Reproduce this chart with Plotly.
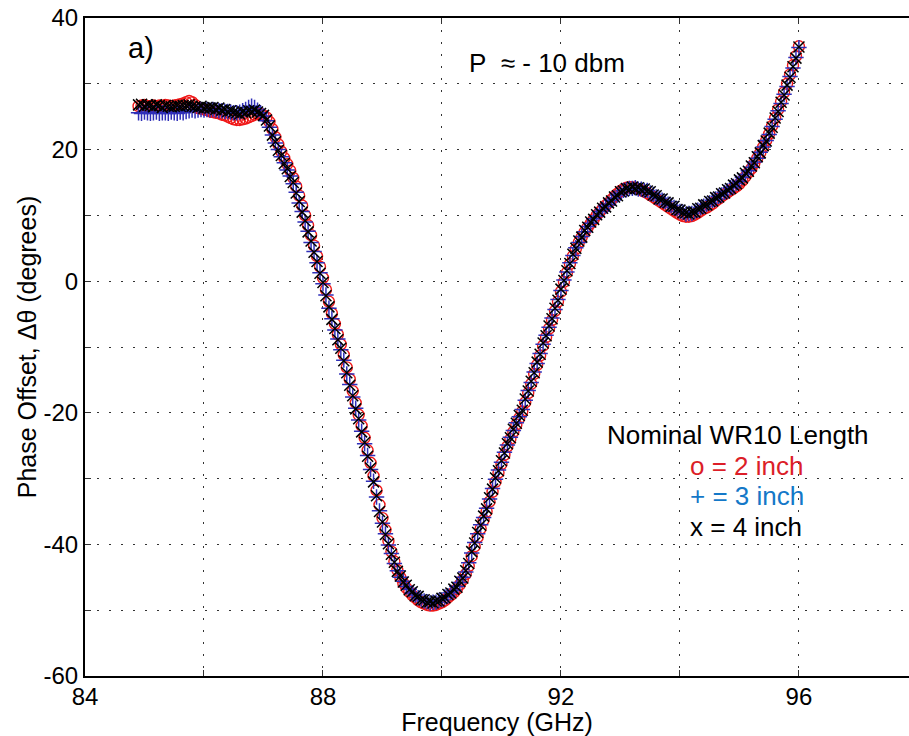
import plotly.graph_objects as go

# Frequency samples (GHz)
freq = [
    84.90, 84.95, 85.00, 85.05, 85.10, 85.15, 85.20, 85.25, 85.30, 85.35,
    85.40, 85.45, 85.50, 85.55, 85.60, 85.65, 85.70, 85.75, 85.80, 85.85,
    85.90, 85.95, 86.00, 86.05, 86.10, 86.15, 86.20, 86.25, 86.30, 86.35,
    86.40, 86.45, 86.50, 86.55, 86.60, 86.65, 86.70, 86.75, 86.80, 86.85,
    86.90, 86.95,
    87.00, 87.05, 87.10, 87.15, 87.20, 87.25, 87.30, 87.35, 87.40, 87.45,
    87.50, 87.55, 87.60, 87.65, 87.70, 87.75, 87.80, 87.85, 87.90, 87.95,
    88.00, 88.05, 88.10, 88.15, 88.20, 88.25, 88.30, 88.35, 88.40, 88.45,
    88.50, 88.55, 88.60, 88.65, 88.70, 88.75, 88.80, 88.85, 88.90, 88.95,
    89.00, 89.05, 89.10, 89.15, 89.20, 89.25, 89.30, 89.35, 89.40, 89.45,
    89.50, 89.55, 89.60, 89.65, 89.70, 89.75, 89.80, 89.85, 89.90, 89.95,
    90.00, 90.05, 90.10, 90.15, 90.20, 90.25, 90.30, 90.35, 90.40, 90.45,
    90.50, 90.55, 90.60, 90.65, 90.70, 90.75, 90.80, 90.85, 90.90, 90.95,
    91.00, 91.05, 91.10, 91.15, 91.20, 91.25, 91.30, 91.35, 91.40, 91.45,
    91.50, 91.55, 91.60, 91.65, 91.70, 91.75, 91.80, 91.85, 91.90, 91.95,
    92.00, 92.05, 92.10, 92.15, 92.20, 92.25, 92.30, 92.35, 92.40, 92.45,
    92.50, 92.55, 92.60, 92.65, 92.70, 92.75, 92.80, 92.85, 92.90, 92.95,
    93.00, 93.05, 93.10, 93.15, 93.20, 93.25, 93.30, 93.35, 93.40, 93.45,
    93.50, 93.55, 93.60, 93.65, 93.70, 93.75, 93.80, 93.85, 93.90, 93.95,
    94.00, 94.05, 94.10, 94.15, 94.20, 94.25, 94.30, 94.35, 94.40, 94.45,
    94.50, 94.55, 94.60, 94.65, 94.70, 94.75, 94.80, 94.85, 94.90, 94.95,
    95.00, 95.05, 95.10, 95.15, 95.20, 95.25, 95.30, 95.35, 95.40, 95.45,
    95.50, 95.55, 95.60, 95.65, 95.70, 95.75, 95.80, 95.85, 95.90, 95.95,
    96.00,
]

# Phase offset (degrees), 2 inch waveguide (o, red)
phase_2in = [
    26.6, 26.7, 26.8, 26.6, 26.6, 26.7, 26.6, 26.7, 26.6, 26.8,
    26.7, 26.6, 26.7, 26.8, 26.9, 27.0, 27.2, 27.4, 27.2, 26.8,
    26.3, 26.2, 26.1, 26.0, 25.8, 25.7, 25.6, 25.5, 25.3, 25.2,
    25.0, 24.8, 24.6, 24.5, 24.5, 24.6, 24.7, 24.9, 25.1, 25.3,
    25.4, 25.4,
    25.2, 24.9, 24.2, 23.1, 21.9, 20.8, 19.7, 18.7, 17.8, 16.8,
    15.7, 14.4, 13.0, 11.5, 10.0, 8.5, 7.0, 5.4, 3.8, 2.2,
    0.5, -1.3, -3.1, -4.9, -6.5, -8.1, -9.6, -11.2, -13.1, -14.9,
    -16.7, -18.5, -20.3, -22.0, -23.8, -25.7, -27.6, -29.6, -31.8, -34.0,
    -36.0, -37.8, -39.5, -41.1, -42.6, -43.9, -45.0, -45.9, -46.6, -47.2,
    -47.7, -48.1, -48.5, -48.8, -49.0, -49.2, -49.3, -49.3, -49.2, -49.0,
    -48.8, -48.5, -48.1, -47.7, -47.3, -46.8, -46.1, -45.4, -44.5, -43.3,
    -41.8, -40.3, -38.9, -37.6, -36.3, -35.0, -33.5, -32.0, -30.5, -29.1,
    -27.8, -26.4, -25.1, -24.0, -22.9, -21.8, -20.8, -19.8, -18.4, -17.0,
    -15.6, -14.1, -12.7, -11.3, -9.8, -8.5, -7.2, -5.9, -4.5, -3.1,
    -1.6, -0.1, 1.3, 2.6, 3.8, 4.9, 5.9, 6.7, 7.5, 8.2,
    8.8, 9.4, 10.0, 10.5, 11.0, 11.5, 11.9, 12.4, 12.9, 13.3,
    13.7, 14.0, 14.2, 14.3, 14.3, 14.2, 14.0, 13.8, 13.6, 13.4,
    13.1, 12.8, 12.5, 12.2, 11.9, 11.6, 11.3, 11.0, 10.7, 10.4,
    10.1, 9.9, 9.8, 9.8, 9.9, 10.1, 10.4, 10.7, 11.0, 11.2,
    11.5, 11.8, 12.2, 12.5, 12.9, 13.2, 13.5, 13.8, 14.1, 14.4,
    14.8, 15.3, 15.9, 16.5, 17.1, 17.9, 18.7, 19.5, 20.4, 21.4,
    22.4, 23.6, 24.8, 26.1, 27.3, 28.7, 30.0, 31.4, 32.8, 34.2,
    35.7,
]

# Phase offset (degrees), 3 inch waveguide (+, blue)
phase_3in = [
    25.6, 25.5, 25.7, 25.6, 25.5, 25.6, 25.7, 25.5, 25.6, 25.6,
    25.5, 25.7, 25.6, 25.5, 25.7, 25.6, 25.8, 25.9, 26.0, 25.9,
    26.0, 26.1, 26.0, 26.1, 26.0, 26.1, 26.0, 25.9, 25.9, 25.8,
    25.8, 25.7, 25.6, 25.6, 25.7, 25.9, 26.1, 26.4, 26.6, 26.4,
    26.0, 25.6,
    25.1, 24.4, 23.4, 22.2, 21.0, 20.0, 18.9, 18.0, 16.9, 16.0,
    14.8, 13.5, 11.9, 10.6, 9.0, 7.6, 5.9, 4.5, 2.8, 1.3,
    -0.4, -2.1, -4.1, -5.7, -7.4, -8.8, -10.4, -12.0, -14.1, -15.7,
    -17.6, -19.3, -21.1, -22.8, -24.7, -26.5, -28.6, -30.4, -32.8, -34.9,
    -36.8, -38.4, -40.1, -41.4, -42.9, -44.0, -45.0, -45.6, -46.4, -46.8,
    -47.4, -47.7, -48.1, -48.3, -48.6, -48.7, -48.9, -48.8, -48.8, -48.5,
    -48.4, -48.0, -47.8, -47.3, -47.0, -46.4, -45.8, -45.0, -44.2, -42.8,
    -41.3, -39.7, -38.4, -37.0, -35.9, -34.5, -33.1, -31.5, -30.1, -28.7,
    -27.5, -26.0, -24.9, -23.7, -22.7, -21.5, -20.6, -19.5, -18.1, -16.6,
    -15.4, -13.8, -12.5, -11.0, -9.6, -8.2, -7.0, -5.6, -4.3, -2.8,
    -1.4, 0.2, 1.4, 2.8, 3.9, 5.1, 5.9, 6.8, 7.5, 8.3,
    8.8, 9.5, 9.9, 10.6, 10.9, 11.4, 11.7, 12.3, 12.6, 13.1,
    13.4, 13.8, 13.9, 14.1, 14.1, 14.2, 14.0, 14.0, 13.8, 13.8,
    13.4, 13.2, 12.8, 12.6, 12.3, 12.1, 11.7, 11.5, 11.2, 11.0,
    10.6, 10.5, 10.2, 10.3, 10.3, 10.6, 10.8, 11.2, 11.4, 11.7,
    11.9, 12.3, 12.5, 12.9, 13.1, 13.5, 13.7, 14.2, 14.4, 14.9,
    15.2, 15.8, 16.2, 16.8, 17.3, 18.1, 18.7, 19.6, 20.4, 21.4,
    22.3, 23.5, 24.6, 25.9, 27.0, 28.4, 29.6, 31.1, 32.4, 34.0,
    35.5,
]

# Phase offset (degrees), 4 inch waveguide (x, black)
phase_4in = [
    26.8, 26.9, 26.6, 26.8, 26.7, 26.5, 26.8, 26.7, 26.4, 26.7,
    26.6, 26.5, 26.6, 26.7, 26.6, 26.7, 26.7, 26.8, 26.6, 26.5,
    26.4, 26.6, 26.3, 26.4, 26.3, 26.4, 26.1, 26.3, 26.0, 26.1,
    25.8, 25.9, 25.7, 25.6, 25.4, 25.7, 25.6, 25.9, 25.8, 26.0,
    25.7, 25.5,
    25.2, 24.5, 23.6, 22.2, 21.2, 19.9, 19.1, 17.9, 17.1, 15.9,
    15.0, 13.4, 12.1, 10.5, 9.2, 7.5, 6.1, 4.4, 3.0, 1.2,
    -0.2, -2.2, -3.9, -5.8, -7.2, -8.9, -10.2, -12.1, -13.9, -15.8,
    -17.4, -19.4, -20.9, -22.9, -24.5, -26.6, -28.4, -30.5, -32.6, -35.0,
    -36.6, -38.5, -39.9, -41.5, -42.7, -44.1, -44.8, -45.7, -46.2, -46.9,
    -47.2, -47.8, -47.9, -48.4, -48.4, -48.8, -48.7, -48.9, -48.6, -48.6,
    -48.2, -48.1, -47.6, -47.4, -46.8, -46.5, -45.6, -45.1, -44.0, -42.9,
    -41.1, -39.8, -38.2, -37.1, -35.7, -34.6, -32.9, -31.6, -29.9, -28.8,
    -27.3, -26.1, -24.7, -23.8, -22.5, -21.6, -20.4, -19.6, -17.9, -16.7,
    -15.2, -13.9, -12.3, -11.1, -9.4, -8.3, -6.8, -5.7, -4.1, -2.9,
    -1.2, 0.1, 1.6, 2.7, 4.1, 5.0, 6.1, 6.7, 7.7, 8.2,
    9.0, 9.4, 10.1, 10.5, 11.1, 11.3, 11.9, 12.2, 12.8, 13.0,
    13.6, 13.7, 14.1, 14.0, 14.3, 14.1, 14.2, 13.9, 14.0, 13.7,
    13.6, 13.1, 13.0, 12.5, 12.5, 12.0, 11.9, 11.4, 11.4, 10.9,
    10.8, 10.4, 10.4, 10.2, 10.5, 10.5, 11.0, 11.1, 11.6, 11.6,
    12.1, 12.2, 12.7, 12.8, 13.3, 13.4, 13.9, 14.1, 14.6, 14.8,
    15.4, 15.7, 16.4, 16.7, 17.5, 18.0, 18.9, 19.5, 20.6, 21.3,
    22.5, 23.4, 24.8, 25.8, 27.2, 28.3, 29.8, 31.0, 32.6, 33.9,
    35.6,
]

assert len(freq) == len(phase_2in) == len(phase_3in) == len(phase_4in)

x_tick_vals = [84, 86, 88, 90, 92, 94, 96, 98]
x_tick_text = ["84", "", "88", "", "92", "", "96", ""]
y_tick_vals = [-60, -50, -40, -30, -20, -10, 0, 10, 20, 30, 40]
y_tick_text = ["-60", "", "-40", "", "-20", "", "0", "", "20", "", "40"]

FONT = "Liberation Sans, Arial, Helvetica, sans-serif"
RED = "#f01818"
BLUE = "#2f2fb8"

fig = go.Figure()
fig.add_trace(go.Scatter(
    x=freq, y=phase_2in, mode="markers", name="2 inch",
    marker=dict(symbol="circle-open", size=11, color=RED, line=dict(width=1.4, color=RED)),
))
fig.add_trace(go.Scatter(
    x=freq, y=phase_3in, mode="markers", name="3 inch",
    marker=dict(symbol="cross-thin-open", size=11, color=BLUE, line=dict(width=1.5, color=BLUE)),
))
fig.add_trace(go.Scatter(
    x=freq, y=phase_4in, mode="markers", name="4 inch",
    marker=dict(symbol="x-thin-open", size=11, color="black", line=dict(width=1.5, color="black")),
))

grid_common = dict(
    showgrid=True, gridcolor="#333333", gridwidth=1, griddash="2px,10px",
    ticks="inside", ticklen=6, tickcolor="#333333", tickwidth=1,
    showline=True, linecolor="black", linewidth=2,
    zeroline=False, tickfont=dict(size=24, family=FONT, color="black"),
)

fig.update_xaxes(
    range=[84, 97.85], tickmode="array", tickvals=x_tick_vals, ticktext=x_tick_text,
    mirror="ticks", ticklabelstandoff=-2,
    title=dict(text="Frequency (GHz)", font=dict(size=25, family=FONT, color="black"), standoff=0),
    **grid_common,
)
fig.update_yaxes(
    range=[-60, 40], tickmode="array", tickvals=y_tick_vals, ticktext=y_tick_text,
    mirror=False, ticklabelstandoff=0,
    title=dict(text="Phase Offset, Δθ (degrees)", font=dict(size=25, family=FONT, color="black"), standoff=0),
    **grid_common,
)

ann_font = dict(family=FONT, size=26, color="black")
fig.add_annotation(x=84.94, y=35.5, xref="x", yref="y", text="a)", showarrow=False,
                   font=dict(family=FONT, size=29, color="black"))
fig.add_annotation(x=91.76, y=33.1, xref="x", yref="y", text="P\u00a0 \u2248 - 10 dbm",
                   showarrow=False, font=ann_font)
fig.add_annotation(x=94.98, y=-23.4, xref="x", yref="y", text="Nominal WR10 Length",
                   showarrow=False, font=ann_font)
fig.add_annotation(x=94.13, y=-28.1, xref="x", yref="y", text="o = 2 inch", xanchor="left",
                   showarrow=False, font=dict(family=FONT, size=26, color="#dc1e28"))
fig.add_annotation(x=94.13, y=-32.7, xref="x", yref="y", text="+ = 3 inch", xanchor="left",
                   showarrow=False, font=dict(family=FONT, size=26, color="#1478c8"))
fig.add_annotation(x=94.13, y=-37.3, xref="x", yref="y", text="x = 4 inch", xanchor="left",
                   showarrow=False, font=ann_font)

fig.update_layout(
    width=909, height=736,
    margin=dict(l=85, r=0, t=18, b=60),
    plot_bgcolor="white", paper_bgcolor="white",
    showlegend=False,
    font=dict(family=FONT, color="black"),
)

fig.write_html("out.html")
